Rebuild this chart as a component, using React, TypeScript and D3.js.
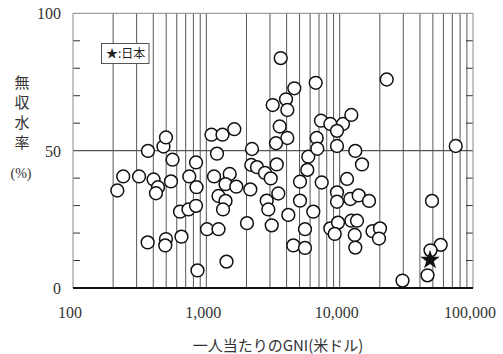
import React from "react";
import * as d3 from "d3";

const gni = [
  215, 238, 313, 402, 434, 419, 365, 477, 498, 558, 543, 363, 498, 492, 651, 745, 837, 844, 635, 735,
  837, 858, 1012, 1234, 1093, 1322, 1621, 1202, 1142, 1497, 1393, 1678, 1234, 1393, 1334, 1417, 2200, 2174, 2137, 2018,
  3613, 4568, 6612, 3960, 3147, 4050, 3551, 4050, 3331, 3372, 6727, 5819, 6797, 5719, 2399, 2754, 3040, 5040, 3466, 2837,
  2916, 4120, 5040, 6344, 3093, 5495, 4490, 5495, 7334, 7244, 8508, 10593, 12230, 9550, 9550, 13100, 14710, 22540, 11350, 9550,
  9550, 12020, 13890, 16600, 8508, 9720, 9180, 12230, 13490, 12970, 13100, 17630, 20070, 19720, 74190, 49260, 57260, 48000, 45580, 29600,
];
const rate = [
  35.5, 40.6, 40.6, 39.5, 36.7, 34.5, 49.9, 51.5, 54.8, 46.7, 38.8, 16.6, 17.8, 15.5, 18.7, 40.6, 45.7, 36.7, 27.8, 28.6,
  29.9, 6.4, 21.4, 21.4, 55.8, 55.8, 57.8, 48.9, 40.6, 41.5, 37.8, 36.9, 33.5, 31.7, 28.6, 9.6, 50.6, 44.8, 35.9, 23.6,
  83.7, 72.7, 74.7, 68.7, 66.6, 64.8, 58.8, 54.6, 52.7, 45.0, 54.6, 47.8, 50.7, 43.0, 44.0, 41.9, 39.9, 38.7, 34.4, 31.8,
  28.6, 26.6, 31.8, 27.8, 22.8, 21.4, 15.5, 14.6, 38.4, 60.9, 59.7, 59.7, 63.0, 57.2, 51.7, 49.9, 45.0, 75.9, 39.7, 34.8,
  31.4, 32.4, 33.7, 31.7, 21.7, 23.8, 19.7, 24.5, 24.5, 19.3, 14.7, 20.7, 21.7, 18.0, 51.7, 31.7, 15.7, 13.7, 4.6, 2.7,
];
const japanGni = 47600;
const japanRate = 10.2;

const xTicks = [100, 1000, 10000, 100000];
const xTickLabels = ["100", "1,000", "10,000", "100,000"];
const yLabelTicks = [0, 50, 100];
const yMinorTicks = [10, 20, 30, 40, 60, 70, 80, 90];
const yTitleChars = ["無", "収", "水", "率"];
const xTitle = "一人当たりのGNI(米ドル)";
const legendText = "★:日本";

export default function App() {
  const W = 503, H = 354;
  const x = d3.scaleLog().domain([100, 100000]).range([73, 473]);
  const y = d3.scaleLinear().domain([0, 100]).range([288, 13.3]);
  const grid: number[] = [];
  for (const dec of [100, 1000, 10000]) {
    for (let m = 1; m <= 9; m++) {
      const v = dec * m;
      if (v > 100) grid.push(v);
    }
  }
  const starPath = d3.symbol(d3.symbolStar, 118)() as string;
  const serif = "'Liberation Serif', 'DejaVu Serif', serif";
  const cjk = "'Noto Sans CJK JP', sans-serif";
  const [x0, x1] = x.range();
  const [yb, yt] = y.range();
  return (
    <svg width={W} height={H} style={{ position: "absolute", left: 0, top: 0, background: "#fff" }}>
      {grid.map((v) => (
        <line key={v} x1={x(v)} x2={x(v)} y1={yt} y2={yb} stroke="#444" strokeWidth={0.9} />
      ))}
      <line x1={x0} x2={x1} y1={y(50)} y2={y(50)} stroke="#555" strokeWidth={1.2} />
      {yMinorTicks.map((v) => (
        <g key={v}>
          <line x1={x0} x2={x0 + 7} y1={y(v)} y2={y(v)} stroke="#333" strokeWidth={1} />
          <line x1={x1 - 7} x2={x1} y1={y(v)} y2={y(v)} stroke="#333" strokeWidth={1} />
        </g>
      ))}
      <line x1={x0} x2={x1} y1={yt} y2={yt} stroke="#888" strokeWidth={1} />
      <line x1={x0} x2={x0} y1={yt} y2={yb} stroke="#888" strokeWidth={1} />
      <line x1={x1} x2={x1} y1={yt} y2={yb} stroke="#888" strokeWidth={1} />
      <line x1={x0} x2={x1} y1={yb} y2={yb} stroke="#111" strokeWidth={2} />
      {gni.map((g, i) => (
        <circle key={i} cx={x(g)} cy={y(rate[i])} r={6.4} fill="#fff" stroke="#111" strokeWidth={1.5} />
      ))}
      <path d={starPath} transform={`translate(${x(japanGni)},${y(japanRate)})`} fill="#111" />
      <rect x={101.5} y={43.5} width={47.5} height={20} fill="#fff" stroke="#555" strokeWidth={1} />
      <text x={106} y={58} fontFamily={cjk} fontSize={12} fill="#222">{legendText}</text>
      {yLabelTicks.map((v) => (
        <text key={v} x={61} y={y(v) + 6} textAnchor="end" fontFamily={serif} fontSize={16} fill="#333">{v}</text>
      ))}
      {xTicks.map((v, i) => (
        <text key={v} x={x(v) - 3} y={318} textAnchor="middle" fontFamily={serif} fontSize={16} fill="#333">{xTickLabels[i]}</text>
      ))}
      {yTitleChars.map((c, i) => (
        <text key={c} x={22} y={88 + i * 20} textAnchor="middle" fontFamily={cjk} fontSize={15} fill="#333">{c}</text>
      ))}
      <text x={21} y={178} textAnchor="middle" fontFamily={serif} fontSize={14} fill="#333">(%)</text>
      <text x={278} y={351} textAnchor="middle" fontFamily={cjk} fontSize={15} fill="#333">{xTitle}</text>
    </svg>
  );
}
